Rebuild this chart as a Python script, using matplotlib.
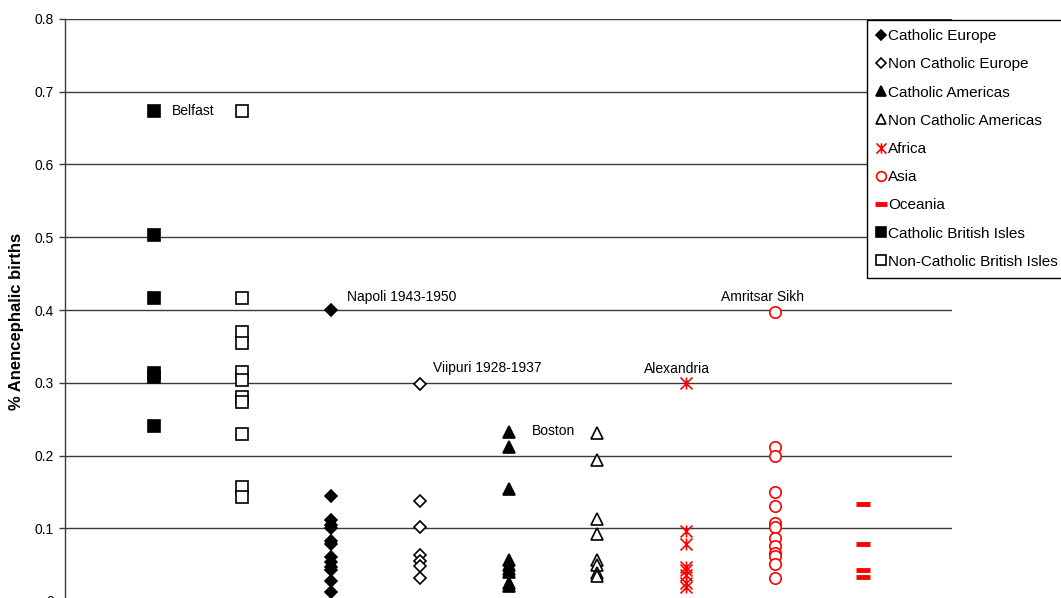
import numpy as np
import matplotlib.pyplot as plt
from matplotlib.path import Path

plt.rcParams['font.family'] = ['Liberation Sans', 'DejaVu Sans']

# % anencephalic births by region (one column per region group)
catholic_europe = [0.400, 0.145, 0.111, 0.105, 0.100, 0.083, 0.079, 0.060, 0.053,
                   0.047, 0.043, 0.028, 0.013]
non_catholic_europe = [0.298, 0.138, 0.102, 0.063, 0.055, 0.048, 0.031]
catholic_americas = [0.232, 0.211, 0.154, 0.057, 0.050, 0.044, 0.040, 0.025, 0.020]
non_catholic_americas = [0.231, 0.194, 0.113, 0.092, 0.056, 0.050, 0.038, 0.034]
africa = [0.300, 0.096, 0.078, 0.047, 0.043, 0.036, 0.025, 0.019]
asia = [0.397, 0.212, 0.199, 0.150, 0.130, 0.107, 0.102, 0.086, 0.075, 0.066,
        0.062, 0.051, 0.032]
oceania = [0.133, 0.078, 0.042, 0.033]
catholic_british = [0.673, 0.503, 0.417, 0.314, 0.308, 0.241]
non_catholic_british = [0.673, 0.417, 0.370, 0.355, 0.315, 0.304, 0.281, 0.274,
                        0.230, 0.157, 0.143]

# excel-style asterisk: an X with a vertical bar through it
asterisk = Path([(-1, -1), (1, 1), (-1, 1), (1, -1), (0, -1), (0, 1)],
                [Path.MOVETO, Path.LINETO, Path.MOVETO, Path.LINETO,
                 Path.MOVETO, Path.LINETO])

# label, column, data, marker, size, face, edge
series = [
    ("Catholic Europe", 3, catholic_europe, 'D', 6.3, 'black', 'black'),
    ("Non Catholic Europe", 4, non_catholic_europe, 'D', 6.3, 'white', 'black'),
    ("Catholic Americas", 5, catholic_americas, '^', 8.6, 'black', 'black'),
    ("Non Catholic Americas", 6, non_catholic_americas, '^', 8.6, 'white', 'black'),
    ("Africa", 7, africa, asterisk, 8.6, 'red', 'red'),
    ("Asia", 8, asia, 'o', 8.2, 'white', 'red'),
    ("Oceania", 9, oceania, '_', 9.5, 'red', 'red'),
    ("Catholic British Isles", 1, catholic_british, 's', 8.4, 'black', 'black'),
    ("Non-Catholic British Isles", 2, non_catholic_british, 's', 8.4, 'white', 'black'),
]

fig = plt.figure(figsize=(10.61, 5.98), dpi=100)
ax = fig.add_axes([65 / 1061, -3 / 598, 887 / 1061, 582 / 598])

for label, col, vals, mk, ms, fc, ec in series:
    mew = 1.2
    if mk == '_':
        mew = 3.5
    ax.plot(np.full(len(vals), col), vals, linestyle='none', marker=mk,
            markersize=ms, markerfacecolor=fc, markeredgecolor=ec,
            markeredgewidth=mew, label=label, zorder=3)

ax.set_xlim(0, 10)
ax.set_ylim(0, 0.8)
ax.set_yticks(np.arange(0, 0.81, 0.1))
ax.set_yticklabels(['0' if v == 0 else f'{v:.1f}' for v in np.arange(0, 0.81, 0.1)])
ax.set_xticks([])
ax.yaxis.grid(True, color='#3a3a3a', linewidth=1)
ax.set_axisbelow(True)
for side in ('top', 'right', 'bottom'):
    ax.spines[side].set_visible(False)
ax.spines['left'].set_color('#3a3a3a')
ax.spines['left'].set_linewidth(1)
ax.tick_params(axis='y', direction='out', length=4, width=1, color='#3a3a3a',
               labelsize=10, pad=4)
ax.set_ylabel('% Anencephalic births', fontsize=12, fontweight='bold')
ax.yaxis.set_label_coords(-0.046, 0.481)

notes = [
    ("Belfast", 1, 0.673, (18, 0), 'left'),
    ("Napoli 1943-1950", 3, 0.400, (16, 13), 'left'),
    ("Viipuri 1928-1937", 4, 0.298, (13, 16), 'left'),
    ("Boston", 5, 0.232, (23, 1), 'left'),
    ("Alexandria", 7, 0.300, (-42, 14), 'left'),
    ("Amritsar Sikh", 8, 0.397, (-12, 15), 'center'),
]
for txt, x, y, off, ha in notes:
    ax.annotate(txt, (x, y), xytext=off, textcoords='offset pixels',
                ha=ha, va='center', fontsize=10)

leg = fig.legend(loc='upper left', bbox_to_anchor=(867 / 1061, 1 - 20 / 598),
                 fontsize=11, frameon=True, fancybox=False, framealpha=1,
                 edgecolor='black', markerscale=0.85, handlelength=0.6,
                 handletextpad=0.2, labelspacing=0.93, borderpad=0.6,
                 borderaxespad=0)
leg.get_frame().set_linewidth(1)

fig.savefig('out.png', dpi=100)
